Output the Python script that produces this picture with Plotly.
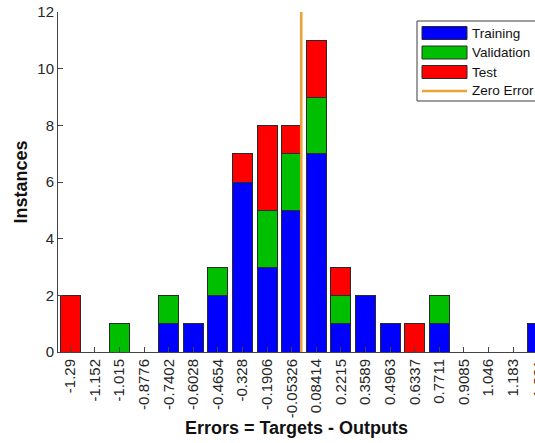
import plotly.graph_objects as go

# ---- data ----
bin_labels = ["-1.29", "-1.152", "-1.015", "-0.8776", "-0.7402", "-0.6028", "-0.4654",
              "-0.328", "-0.1906", "-0.05326", "0.08414", "0.2215", "0.3589", "0.4963",
              "0.6337", "0.7711", "0.9085", "1.046", "1.183", "1.321"]
bin_centers = [float(s) for s in bin_labels]
training = [0, 0, 0, 0, 1, 1, 2, 6, 3, 5, 7, 1, 2, 1, 0, 1, 0, 0, 0, 1]
validation = [0, 0, 1, 0, 1, 0, 1, 0, 2, 2, 2, 1, 0, 0, 0, 1, 0, 0, 0, 0]
test = [2, 0, 0, 0, 0, 0, 0, 1, 3, 1, 2, 1, 0, 0, 1, 0, 0, 0, 0, 0]
y_ticks = [0, 2, 4, 6, 8, 10, 12]
series_names = ["Training", "Validation", "Test", "Zero Error"]

# ---- style ----
W, H = 535, 443
ML, MT, MR, MB = 58, 12, 0, 91
BLUE, GREEN, RED, ORANGE = "#0000FF", "#00BE00", "#FF0000", "#EBA236"
EDGE = "#2a2a2a"
FONT = "Liberation Sans, Arial, sans-serif"
TXT = "#262626"

idx = list(range(len(bin_labels)))
x_range = [-0.5, 18.89]

# zero error location in index coordinates
k = max(i for i, c in enumerate(bin_centers) if c <= 0)
x_zero = k + (0 - bin_centers[k]) / (bin_centers[k + 1] - bin_centers[k])

fig = go.Figure()
for name, vals, col in [(series_names[0], training, BLUE),
                        (series_names[1], validation, GREEN),
                        (series_names[2], test, RED)]:
    fig.add_trace(go.Bar(x=idx, y=vals, name=name, marker_color=col,
                         marker_line_color=EDGE, marker_line_width=1,
                         showlegend=False))
fig.add_trace(go.Scatter(x=[x_zero, x_zero], y=[0, 12.08], mode="lines",
                         line=dict(color=ORANGE, width=2.6), name=series_names[3],
                         showlegend=False, cliponaxis=False))

pw = W - ML - MR
ph = H - MT - MB


def px(xp):
    return (xp - ML) / pw


def py(yp):
    return (H - MB - yp) / ph


shapes = []
annotations = []
# legend box
shapes.append(dict(type="rect", xref="paper", yref="paper", x0=px(417), x1=px(548),
                   y0=py(101), y1=py(21), fillcolor="white",
                   line=dict(color="#3c3c3c", width=1), layer="above"))
leg_y = [33, 52.5, 72, 91]
for i, (nm, col) in enumerate(zip(series_names[:3], [BLUE, GREEN, RED])):
    shapes.append(dict(type="rect", xref="paper", yref="paper", x0=px(422), x1=px(467),
                       y0=py(leg_y[i] + 6.5), y1=py(leg_y[i] - 6.5), fillcolor=col,
                       line=dict(color=EDGE, width=1), layer="above"))
shapes.append(dict(type="line", xref="paper", yref="paper", x0=px(422), x1=px(467),
                   y0=py(leg_y[3]), y1=py(leg_y[3]),
                   line=dict(color=ORANGE, width=2.6), layer="above"))
for i, nm in enumerate(series_names):
    annotations.append(dict(text=nm, xref="paper", yref="paper", x=px(470), y=py(leg_y[i]),
                            xanchor="left", yanchor="middle", showarrow=False,
                            font=dict(family=FONT, size=13.5, color="#111")))

# partially visible last tick label (cut by the image border)
annotations.append(dict(text=bin_labels[-1], xref="paper", yref="paper",
                        x=(19 - x_range[0]) / (x_range[1] - x_range[0]), y=0,
                        xanchor="center", yanchor="top", yshift=-6, textangle=-90,
                        showarrow=False, font=dict(family=FONT, size=15, color=TXT)))

fig.update_layout(
    width=W, height=H, barmode="stack", bargap=0.19,
    margin=dict(l=ML, r=MR, t=MT, b=MB, pad=0),
    paper_bgcolor="white", plot_bgcolor="white",
    font=dict(family=FONT, size=15, color=TXT),
    shapes=shapes, annotations=annotations,
    xaxis=dict(range=x_range, tickmode="array", tickvals=idx, ticktext=bin_labels,
               tickangle=-90, ticks="inside", ticklen=5, tickcolor="#444",
               showline=True, linecolor="#444", linewidth=1, showgrid=False,
               zeroline=False, tickfont=dict(size=15, color=TXT),
               title=dict(text="<b>Errors = Targets - Outputs</b>", standoff=4,
                          font=dict(size=18, color="#111"))),
    yaxis=dict(range=[0, 12], tickvals=y_ticks, ticks="inside", ticklen=5,
               tickcolor="#444", showline=True, linecolor="#444", linewidth=1,
               showgrid=False, zeroline=False, tickfont=dict(size=15, color=TXT),
               title=dict(text="<b>Instances</b>", standoff=5,
                          font=dict(size=18, color="#111"))),
)

fig.write_html("out.html")
